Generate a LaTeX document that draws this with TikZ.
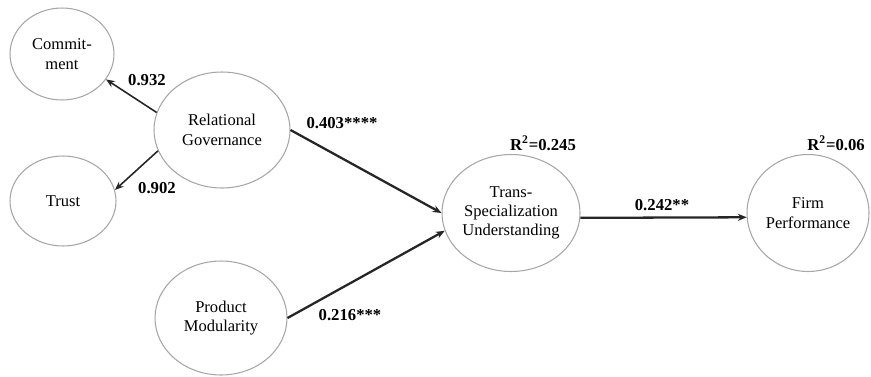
\documentclass[tikz,border=0pt]{standalone}
\usepackage{fontspec}
\setmainfont{Liberation Serif}
\usepackage{tikz}
\usetikzlibrary{arrows.meta, shapes.geometric}

\tikzset{
  construct/.style={ellipse, draw=gray!70, line width=0.6pt, align=center, inner sep=0pt},
  path/.style={-{Stealth[length=5pt, width=4pt]}, line width=1.3pt, black!85},
  loading/.style={-{Stealth[length=5pt, width=4pt]}, line width=0.9pt, black!85},
  coef/.style={font=\fontsize{9.5}{11}\selectfont\bfseries}
}

\begin{document}
\begin{tikzpicture}[x=0.02cm, y=-0.02cm, font=\fontsize{9.4}{11}\selectfont]
\useasboundingbox (0,0) rectangle (871,376);

% Constructs
\node[construct, minimum width=2.08cm, minimum height=1.84cm] (com) at (62,54) {Commit-\\ment};
\node[construct, minimum width=2.12cm, minimum height=1.8cm] (trust) at (63,201) {Trust};
\node[construct, minimum width=2.72cm, minimum height=2.32cm] (rg) at (222,130) {Relational\\Governance};
\node[construct, minimum width=2.64cm, minimum height=2.28cm] (pm) at (221,318) {Product\\Modularity};
\node[construct, minimum width=2.76cm, minimum height=2.34cm] (tsu) at (511,213) {Trans-\\Specialization\\Understanding};
\node[construct, minimum width=2.44cm, minimum height=2.34cm] (fp) at (808,213) {Firm\\Performance};

% Loadings
\draw[loading] (rg.165) -- (com.-30);
\draw[loading] (rg.198) -- (trust.12);

% Structural paths
\draw[path] (rg.east) -- (tsu.west);
\draw[path] (pm.east) -- (tsu.195);
\draw[path] (tsu.-4) -- (fp.184);

% Coefficients
\node[coef] (l1) at (147,80) {0.932};
\node[coef] (l2) at (157,188) {0.902};
\node[coef] (b1) at (342,123) {0.403****};
\node[coef] (b2) at (350,315) {0.216***};
\node[coef] (b3) at (662,205) {0.242**};

% Explained variance
\node[coef] (r1) at (543,143) {R\textsuperscript{2}=0.245};
\node[coef, anchor=east] (r2) at (871,143) {R\textsuperscript{2}=0.06};

\end{tikzpicture}
\end{document}
